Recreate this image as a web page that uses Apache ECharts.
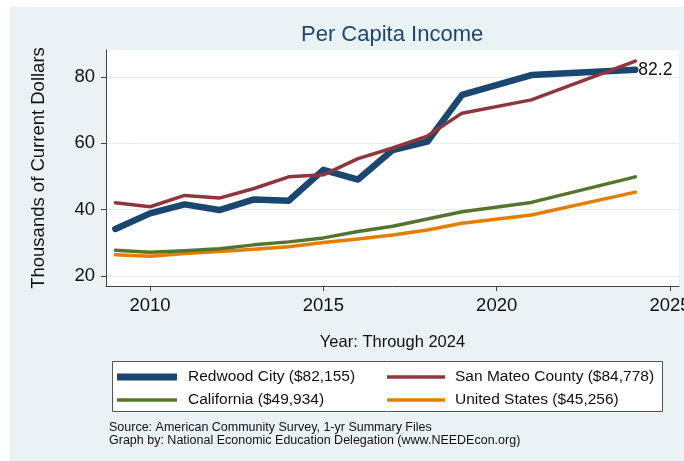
<!DOCTYPE html>
<html>
<head>
<meta charset="utf-8">
<script src="https://cdn.jsdelivr.net/npm/echarts@6/dist/echarts.min.js"></script>
<style>
  html, body { margin: 0; padding: 0; background: #fff; }
  #chart { width: 684px; height: 461px; }
</style>
</head>
<body>
<div id="chart"></div>
<script>
// 数据（千美元），2020 年无 1 年期数据
const years = [2009, 2010, 2011, 2012, 2013, 2014, 2015, 2016, 2017, 2018, 2019, 2021, 2024];
const redwoodCity = [34.2, 38.9, 41.6, 39.9, 43.1, 42.7, 52.0, 49.1, 58.0, 60.5, 74.6, 80.6, 82.2];
const sanMateo = [42.1, 40.9, 44.3, 43.5, 46.4, 49.9, 50.5, 55.4, 58.6, 62.2, 69.1, 73.1, 84.8];
const california = [27.8, 27.2, 27.6, 28.2, 29.4, 30.3, 31.5, 33.4, 35.0, 37.2, 39.4, 42.2, 49.9];
const unitedStates = [26.4, 26.0, 26.8, 27.4, 28.1, 28.8, 30.1, 31.2, 32.4, 33.9, 35.9, 38.4, 45.3];
const seriesNames = [
  "Redwood City ($82,155)",
  "San Mateo County ($84,778)",
  "California ($49,934)",
  "United States ($45,256)"
];
const xTicks = [2010, 2015, 2020, 2025];
const yTicks = [20, 40, 60, 80];

const colors = ["#1a476f", "#90353b", "#55752f", "#e37e00"];
const font = "'Liberation Sans', Arial, sans-serif";

// 图例中的线条样本（粗细不同）
const thickIcon = "path://M0,0H60V7H0Z";
const thinIcon = "path://M0,0H60V3.5H0Z";

const toPairs = vals => years.map((y, i) => [y, vals[i]]);

const makeLine = (name, vals, color, width, extra) =>
  Object.assign(
    {
      name,
      type: "line",
      data: toPairs(vals),
      symbol: "none",
      lineStyle: { color, width, cap: "round", join: "round" },
      itemStyle: { color }
    },
    extra || {}
  );

const chart = echarts.init(document.getElementById("chart"));

chart.setOption({
  animation: false,
  backgroundColor: "#fff",
  graphic: [
    {
      type: "rect",
      z: -10,
      silent: true,
      shape: { x: 10, y: 7, width: 674, height: 454 },
      style: { fill: "#eaf2f3" }
    },
    {
      type: "rect",
      z: 1,
      silent: true,
      shape: { x: 112.5, y: 361.5, width: 550, height: 50 },
      style: { fill: "#fff", stroke: "#555", lineWidth: 1 }
    },
    {
      type: "text",
      z: 5,
      left: 109,
      top: 421,
      style: {
        text: "Source: American Community Survey, 1-yr Summary Files\nGraph by: National Economic Education Delegation (www.NEEDEcon.org)",
        font: "12.5px " + font,
        lineHeight: 13,
        fill: "#111"
      }
    }
  ],
  title: {
    text: "Per Capita Income",
    left: 301,
    top: 24,
    padding: 0,
    textStyle: { color: "#1a476f", fontSize: 22, fontWeight: "normal", fontFamily: font }
  },
  grid: {
    left: 106,
    right: 5,
    top: 50,
    bottom: 175,
    outerBoundsMode: "none",
    containLabel: false,
    show: true,
    backgroundColor: "#fff",
    borderWidth: 0
  },
  legend: [
    {
      orient: "vertical",
      left: 117,
      top: 369,
      padding: 0,
      itemWidth: 60,
      itemHeight: 14,
      itemGap: 7,
      z: 5,
      data: [
        { name: seriesNames[0], icon: thickIcon },
        { name: seriesNames[2], icon: thinIcon }
      ],
      textStyle: { fontSize: 15.5, color: "#111", fontFamily: font, padding: [0, 0, 0, 6] }
    },
    {
      orient: "vertical",
      left: 387,
      top: 369,
      padding: 0,
      itemWidth: 58,
      itemHeight: 14,
      itemGap: 7,
      z: 5,
      data: [
        { name: seriesNames[1], icon: thinIcon },
        { name: seriesNames[3], icon: thinIcon }
      ],
      textStyle: { fontSize: 15.5, color: "#111", fontFamily: font, padding: [0, 0, 0, 5] }
    }
  ],
  xAxis: {
    type: "value",
    min: 2008.73,
    max: 2025.26,
    name: "Year: Through 2024",
    nameLocation: "middle",
    nameGap: 48,
    nameTextStyle: { fontSize: 16.5, color: "#111", fontFamily: font },
    axisLine: { lineStyle: { color: "#444", width: 1 } },
    axisTick: { show: true, length: 5, customValues: xTicks, lineStyle: { color: "#444" } },
    axisLabel: {
      customValues: xTicks,
      formatter: v => String(v),
      margin: 10,
      fontSize: 18.5,
      color: "#111",
      fontFamily: font,
      showMaxLabel: true
    },
    splitLine: { show: false }
  },
  yAxis: {
    type: "value",
    min: 17,
    max: 88.14,
    name: "Thousands of Current Dollars",
    nameLocation: "middle",
    nameGap: 58,
    nameTextStyle: { fontSize: 18.5, color: "#111", fontFamily: font },
    axisLine: { show: true, lineStyle: { color: "#444", width: 1 } },
    axisTick: { show: true, length: 5, customValues: yTicks, lineStyle: { color: "#444" } },
    axisLabel: {
      customValues: yTicks,
      margin: 11,
      fontSize: 18.5,
      color: "#111",
      fontFamily: font
    },
    splitLine: { show: true, lineStyle: { color: "#e6eef0", width: 1 } }
  },
  series: [
    makeLine(seriesNames[3], unitedStates, colors[3], 3.5),
    makeLine(seriesNames[2], california, colors[2], 3.5),
    makeLine(seriesNames[0], redwoodCity, colors[0], 6.5, {
      endLabel: {
        show: true,
        distance: 3,
        formatter: p => p.value[1].toFixed(1),
        fontSize: 17.5,
        color: "#111",
        fontFamily: font
      }
    }),
    makeLine(seriesNames[1], sanMateo, colors[1], 3.5)
  ]
});
</script>
</body>
</html>
